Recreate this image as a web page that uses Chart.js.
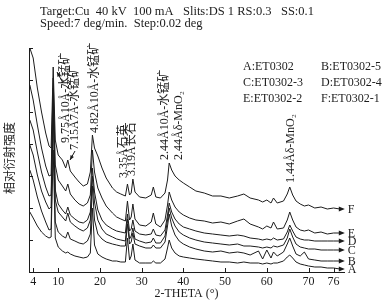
<!DOCTYPE html>
<html>
<head>
<meta charset="utf-8">
<script src="https://cdn.jsdelivr.net/npm/chart.js@4.4.1/dist/chart.umd.min.js"></script>
<style>
  html, body { margin: 0; padding: 0; background: #fff; }
  #wrap { width: 389px; height: 303px; }
</style>
</head>
<body>
<div id="wrap"><canvas id="xrd" width="389" height="303"></canvas></div>
<script>
// XRD patterns, six samples stacked (A bottom .. F top), intensity in a.u.

const twoTheta = [3.2, 4, 5, 6, 7, 7.8, 8.3, 8.8, 9.3, 10, 11, 11.8, 12.3, 12.9, 14, 15, 16, 17, 17.7, 18.2,
  18.7, 19.5, 20.5, 21.5, 23, 24, 25, 26.1, 26.6, 27.1, 27.5, 27.9, 28.4, 29.5, 31, 32.3, 32.8, 33.4, 34.5, 35.6,
  36.2, 36.6, 37.2, 38, 39, 40, 41.5, 43, 45, 47, 49, 51, 53, 54.5, 56, 58, 59, 60, 61, 61.6,
  62.5, 64, 64.9, 65.5, 66.2, 67, 68, 69, 70, 71.5, 73, 74.5, 76, 77.5];

const seriesF = [224, 214, 184, 160, 139, 126, 124, 205, 132, 117, 112, 104, 112, 101, 95, 90, 86, 88, 100, 137,
  124, 116, 104, 94, 84, 80, 78, 76, 88, 77, 79, 93, 80, 75, 74, 77, 85, 75, 74, 79,
  92, 109, 102, 96, 92, 89, 85, 81, 79, 76, 76, 74, 76, 78, 74, 72, 70, 72, 69, 74,
  69, 71, 78, 85, 77, 71, 68, 66, 67, 64, 65, 63, 64, 63];
const seriesE = [187, 172, 147, 124, 106, 96, 97, 194, 107, 92, 86, 81, 88, 78, 72, 68, 66, 69, 77, 122,
  100, 84, 74, 66, 59, 55, 53, 51, 71, 52, 55, 68, 53, 47, 46, 50, 59, 48, 45, 52,
  67, 80, 72, 65, 60, 57, 54, 52, 51, 49, 50, 48, 51, 53, 48, 45, 43, 46, 44, 50,
  43, 44, 52, 60, 52, 45, 42, 41, 42, 39, 40, 38, 39, 39];
const seriesD = [152, 142, 120, 100, 85, 76, 77, 184, 82, 68, 62, 58, 65, 57, 53, 50, 49, 52, 60, 104,
  80, 62, 52, 47, 43, 41, 40, 39, 58, 41, 43, 52, 41, 38, 37, 38, 43, 37, 36, 42,
  57, 69, 60, 53, 48, 45, 43, 41, 39, 38, 37, 36, 37, 36, 34, 33, 32, 33, 32, 34,
  32, 33, 40, 47, 41, 35, 33, 32, 32, 31, 31, 31, 31, 31];
const seriesC = [127, 117, 97, 81, 70, 63, 65, 180, 72, 60, 55, 51, 59, 50, 46, 43, 41, 44, 52, 96,
  70, 52, 43, 38, 35, 33, 32, 31, 53, 33, 36, 44, 33, 31, 29, 30, 34, 29, 29, 36,
  52, 64, 54, 46, 40, 37, 34, 32, 30, 29, 28, 27, 28, 26, 26, 25, 24, 25, 24, 26,
  25, 27, 34, 43, 35, 28, 25, 24, 23, 23, 22, 22, 22, 22];
const seriesB = [102, 92, 75, 61, 50, 42, 43, 164, 50, 40, 36, 34, 40, 33, 31, 29, 28, 31, 38, 86,
  52, 38, 33, 30, 28, 27, 26, 26, 48, 28, 30, 39, 28, 26, 24, 24, 27, 24, 24, 30,
  46, 58, 46, 37, 31, 28, 25, 23, 21, 20, 21, 19, 20, 19, 17, 21, 13, 22, 14, 20,
  16, 20, 28, 34, 26, 18, 16, 20, 13, 12, 11, 11, 11, 11];
const seriesA = [60, 54, 46, 40, 36, 34, 35, 122, 34, 25, 21, 19, 20, 18, 16, 15, 14, 15, 19, 64,
  27, 18, 15, 13, 11, 11, 10, 10, 34, 12, 16, 28, 12, 9, 9, 9, 11, 9, 9, 13,
  24, 32, 24, 19, 16, 15, 14, 13, 12, 11, 10, 10, 9, 10, 9, 9, 8, 9, 8, 9,
  9, 11, 15, 17, 14, 10, 8, 7, 6, 5, 5, 4, 4, 3];

const seriesLetters = ["A", "B", "C", "D", "E", "F"];
const sampleNames = ["A:ET0302", "B:ET0302-5", "C:ET0302-3", "D:ET0302-4", "E:ET0302-2", "F:ET0302-1"];

const xTickValues = [4, 10, 20, 30, 40, 50, 60, 70, 76];
const Y_MAX = 224;
const Y_STEP = 32;

const headerLines = [
  "Target:Cu  40 kV  100 mA   Slits:DS 1 RS:0.3   SS:0.1",
  "Speed:7 deg/min.  Step:0.02 deg",
];
const yTitle = "相对衍射强度";
const xTitle = "2-THETA (°)";

const peakLabels = ["9.75Å10Å-水锰矿", "7.15Å7Å-水锰矿", "4.82Å10Å-水锰矿", "3.35Å石英", "3.19Å长石",
  "2.44Å10Å-水锰矿", "2.44Åδ-MnO₂", "1.44Åδ-MnO₂"];
const peakAngles = [8.8, 12.3, 18.2, 26.6, 27.9, 36.6, 36.6, 65.5];

// ---------------------------------------------------------------------
const SERIF = '"Liberation Serif", "Times New Roman", "Noto Sans CJK SC", serif';
const INK = "#1c1c1c";

function vtext(ctx, str, cx, bottom) {
  ctx.save();
  ctx.translate(cx, bottom);
  ctx.rotate(-Math.PI / 2);
  ctx.textAlign = "left";
  ctx.textBaseline = "middle";
  ctx.fillText(str, 0, 0);
  ctx.restore();
}

function arrow(ctx, x0, y0, x1, y1) {
  const a = Math.atan2(y1 - y0, x1 - x0);
  ctx.beginPath();
  ctx.moveTo(x0, y0);
  ctx.lineTo(x1, y1);
  ctx.stroke();
  ctx.beginPath();
  ctx.moveTo(x1, y1);
  ctx.lineTo(x1 - 5 * Math.cos(a - 0.4), y1 - 5 * Math.sin(a - 0.4));
  ctx.lineTo(x1 - 5 * Math.cos(a + 0.4), y1 - 5 * Math.sin(a + 0.4));
  ctx.closePath();
  ctx.fill();
}

// label placement: [x offset from peak px, bottom of text px]
const labelPlace = [[13, 143], [7, 150], [2, 133], [-4, 178], [-1, 176], [-4, 160], [10, 160], [1, 183]];

const decor = {
  id: "decor",
  afterDraw(chart) {
    const { ctx, chartArea: area } = chart;
    const x = chart.scales.x, y = chart.scales.y;
    ctx.save();
    ctx.strokeStyle = INK;
    ctx.fillStyle = INK;
    ctx.lineWidth = 1;

    // inward tick marks
    ctx.beginPath();
    for (let v = 0; v <= Y_MAX; v += Y_STEP) {
      const py = Math.round(y.getPixelForValue(v)) + 0.5;
      ctx.moveTo(area.left, py);
      ctx.lineTo(area.left + 4, py);
    }
    xTickValues.forEach((v) => {
      const px = Math.round(x.getPixelForValue(v)) + 0.5;
      ctx.moveTo(px, area.bottom);
      ctx.lineTo(px, area.bottom - 4);
    });
    ctx.stroke();

    // arrow heads + series letters
    ctx.font = `12px ${SERIF}`;
    ctx.textBaseline = "middle";
    ctx.textAlign = "left";
    chart.data.datasets.forEach((ds, i) => {
      const pts = chart.getDatasetMeta(i).data;
      const last = pts[pts.length - 1];
      ctx.beginPath();
      ctx.moveTo(last.x + 5, last.y);
      ctx.lineTo(last.x - 1, last.y - 2.5);
      ctx.lineTo(last.x - 1, last.y + 2.5);
      ctx.closePath();
      ctx.fill();
      ctx.fillText(ds.label, last.x + 8, last.y + 1);
    });

    // header
    ctx.font = `12.5px ${SERIF}`;
    ctx.fillText(headerLines[0], 40, 12);
    ctx.fillText(headerLines[1], 40, 24);

    // sample key
    ctx.font = `12px ${SERIF}`;
    sampleNames.forEach((name, i) => {
      ctx.fillText(name, i % 2 === 0 ? 243 : 321, 67 + Math.floor(i / 2) * 16);
    });

    // axis title (y)
    ctx.font = `12px ${SERIF}`;
    ctx.textAlign = "center";
    ctx.save();
    ctx.translate(11, 158);
    ctx.rotate(-Math.PI / 2);
    ctx.fillText(yTitle, 0, 0);
    ctx.restore();

    // peak labels
    ctx.font = `12px ${SERIF}`;
    peakLabels.forEach((txt, i) => {
      const [dx, bottom] = labelPlace[i];
      vtext(ctx, txt, x.getPixelForValue(peakAngles[i]) + dx, bottom);
    });
    arrow(ctx, 63, 83, 57, 72);
    arrow(ctx, 75, 151, 70, 160);
    ctx.restore();
  },
};

const allSeries = [seriesA, seriesB, seriesC, seriesD, seriesE, seriesF];

new Chart(document.getElementById("xrd"), {
  type: "line",
  data: {
    datasets: allSeries.map((vals, i) => ({
      label: seriesLetters[i],
      data: twoTheta.map((t, k) => ({ x: t, y: vals[k] })),
      borderColor: INK,
      borderWidth: 1,
      pointRadius: 0,
      tension: 0,
      clip: false,
    })),
  },
  options: {
    responsive: false,
    animation: false,
    devicePixelRatio: 1,
    layout: { padding: { top: 48, right: 45, left: 0, bottom: 0 } },
    plugins: { legend: { display: false }, tooltip: { enabled: false } },
    scales: {
      x: {
        type: "linear",
        min: 3,
        max: 78.5,
        afterBuildTicks(s) {
          s.ticks = xTickValues.map((v) => ({ value: v }));
        },
        afterFit(s) {
          s.height = 31;
        },
        ticks: {
          color: INK,
          font: { family: SERIF, size: 12 },
          padding: 3,
          autoSkip: false,
          maxRotation: 0,
          callback: (v) => String(v),
        },
        grid: { display: false, drawTicks: false },
        border: { color: INK, width: 1 },
        title: {
          display: true,
          text: xTitle,
          color: INK,
          font: { family: SERIF, size: 12 },
          padding: { top: 0, bottom: 2 },
        },
      },
      y: {
        min: 0,
        max: Y_MAX,
        afterFit(s) {
          s.width = 29;
        },
        ticks: { display: false, stepSize: Y_STEP },
        grid: { display: false, drawTicks: false },
        border: { color: INK, width: 1 },
      },
    },
  },
  plugins: [decor],
});
</script>
</body>
</html>
